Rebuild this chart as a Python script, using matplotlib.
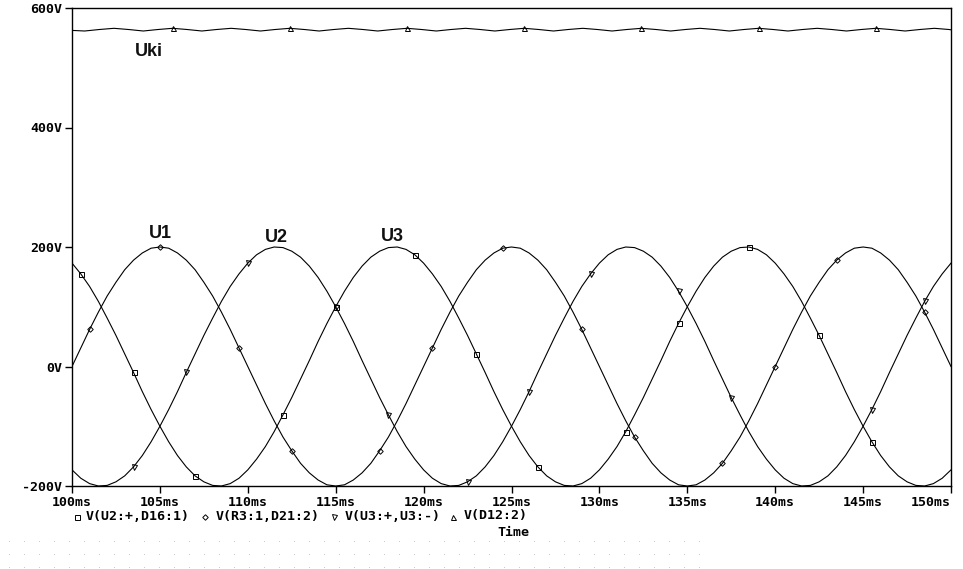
import numpy as np
import matplotlib
matplotlib.use("Agg")
import matplotlib.pyplot as plt
from matplotlib.lines import Line2D

# time axis of the sampled traces (ms)
t_ms = np.linspace(100, 150, 101)

# V(R3:1,D21:2)  -> "U1"
u1 = [0, 31, 62, 91, 118, 141, 162, 178, 190, 198, 200, 198, 190, 178, 162, 141, 118, 91, 62, 31,
      0, -31, -62, -91, -118, -141, -162, -178, -190, -198, -200, -198, -190, -178, -162, -141, -118, -91, -62, -31,
      0, 31, 62, 91, 118, 141, 162, 178, 190, 198, 200, 198, 190, 178, 162, 141, 118, 91, 62, 31,
      0, -31, -62, -91, -118, -141, -162, -178, -190, -198, -200, -198, -190, -178, -162, -141, -118, -91, -62, -31,
      0, 31, 62, 91, 118, 141, 162, 178, 190, 198, 200, 198, 190, 178, 162, 141, 118, 91, 62, 31, 0]

# V(U3:+,U3:-)  -> "U2"
u2 = [-173, -187, -196, -200, -199, -193, -183, -168, -149, -126, -100, -72, -42, -10,
      21, 52, 81, 109, 134, 155, 173, 187, 196, 200, 199, 193, 183, 168, 149, 126, 100, 72, 42, 10,
      -21, -52, -81, -109, -134, -155, -173, -187, -196, -200, -199, -193, -183, -168, -149, -126, -100, -72, -42, -10,
      21, 52, 81, 109, 134, 155, 173, 187, 196, 200, 199, 193, 183, 168, 149, 126, 100, 72, 42, 10,
      -21, -52, -81, -109, -134, -155, -173, -187, -196, -200, -199, -193, -183, -168, -149, -126, -100, -72, -42, -10,
      21, 52, 81, 109, 134, 155, 173]

# V(U2:+,D16:1)  -> "U3"
u3 = [173, 155, 134, 109, 81, 52, 21, -10, -42, -72, -100, -126, -149, -168, -183, -193, -199, -200, -196, -187,
      -173, -155, -134, -109, -81, -52, -21,
      10, 42, 72, 100, 126, 149, 168, 183, 193, 199, 200, 196, 187, 173, 155, 134, 109, 81, 52, 21,
      -10, -42, -72, -100, -126, -149, -168, -183, -193, -199, -200, -196, -187, -173, -155, -134, -109, -81, -52, -21,
      10, 42, 72, 100, 126, 149, 168, 183, 193, 199, 200, 196, 187, 173, 155, 134, 109, 81, 52, 21,
      -10, -42, -72, -100, -126, -149, -168, -183, -193, -199, -200, -196, -187, -173]

# V(D12:2)  -> "Uki", sampled at quarter ripple periods
uki_t = np.r_[100.0, np.linspace(100.72, 149.89, 60), 150.0]
uki = [562.5,
       561.5, 564, 566, 564, 561.5, 564, 566, 564, 561.5, 564, 566, 564,
       561.5, 564, 566, 564, 561.5, 564, 566, 564, 561.5, 564, 566, 564,
       561.5, 564, 566, 564, 561.5, 564, 566, 564, 561.5, 564, 566, 564,
       561.5, 564, 566, 564, 561.5, 564, 566, 564, 561.5, 564, 566, 564,
       561.5, 564, 566, 564, 561.5, 564, 566, 564, 561.5, 564, 566, 564,
       563.5]

# where the probe markers sit (ms)
u1_marks = [100.9, 105.2, 109.3, 112.3, 117.4, 120.5, 124.3, 128.8, 131.8, 136.8, 140.1, 143.5, 148.3]
u2_marks = [103.3, 106.7, 110.0, 114.9, 117.9, 122.4, 126.2, 129.3, 134.4, 137.4, 145.7, 148.7]
u3_marks = [100.3, 103.5, 107.1, 111.8, 114.9, 119.6, 123.1, 126.4, 131.4, 134.3, 138.7, 142.6, 145.7]
uki_marks = [105.4, 112.2, 118.9, 125.6, 132.4, 139.1, 145.8]

y_ticks = [-200, 0, 200, 400, 600]
y_labels = ["-200V", "0V", "200V", "400V", "600V"]
x_ticks = [100, 105, 110, 115, 120, 125, 130, 135, 140, 145, 150]
x_labels = ["%dms" % v for v in x_ticks]

legend_names = ["V(U2:+,D16:1)", "V(R3:1,D21:2)", "V(U3:+,U3:-)", "V(D12:2)"]
trace_names = ["Uki", "U1", "U2", "U3"]


def idx_of(t, marks):
    t = np.asarray(t)
    return [int(np.abs(t - m).argmin()) for m in marks]


W, H = 963, 569
fig = plt.figure(figsize=(W / 100, H / 100), dpi=100)
ax = fig.add_axes([72 / W, 1 - 486 / H, (951 - 72) / W, (486 - 8) / H])

mono = {"family": "DejaVu Sans Mono", "weight": "bold", "size": 9.5}

traces = [
    (t_ms, u3, u3_marks, "s"),
    (t_ms, u1, u1_marks, "D"),
    (t_ms, u2, u2_marks, "v"),
    (uki_t, uki, uki_marks, "^"),
]
for tt, vals, marks, m in traces:
    ax.plot(tt, vals, color="black", lw=0.8, marker=m, markevery=idx_of(tt, marks),
            ms=3.6 if m != "D" else 2.8, mfc="none", mec="black", mew=0.7)

ax.set_xlim(100, 150)
ax.set_ylim(-200, 600)
ax.set_yticks(y_ticks)
ax.set_yticklabels(y_labels, fontdict=mono)
ax.set_xticks(x_ticks)
ax.set_xticklabels(x_labels, fontdict=mono)
ax.get_xticklabels()[-1].set_ha("right")
ax.tick_params(direction="out", length=5, width=1, pad=2, color="black")
for s in ax.spines.values():
    s.set_linewidth(1)
    s.set_color("black")

# trace labels
lab = {"family": "Liberation Sans", "weight": "bold", "size": 13, "color": "#111111"}
ax.text(104.4, 527, trace_names[0], ha="center", va="center", **lab)
ax.text(105.0, 222, trace_names[1], ha="center", va="center", **lab)
ax.text(111.6, 216, trace_names[2], ha="center", va="center", **lab)
ax.text(118.25, 217, trace_names[3], ha="center", va="center", **lab)

# overlay in pixel coordinates for the legend row and window dots
ov = fig.add_axes([0, 0, 1, 1], zorder=-1)
ov.set_xlim(0, W)
ov.set_ylim(H, 0)
ov.axis("off")

gx, gy = np.meshgrid(np.arange(9, 710, 15), [541, 554, 567])
ov.scatter(gx.ravel(), gy.ravel(), s=0.6, color="#c4c4c4", linewidths=0)

leg_sym_x = [77, 205, 334, 453]
leg_txt_x = [86, 216, 345, 464]
for sx, tx, name, m in zip(leg_sym_x, leg_txt_x, legend_names, ["s", "D", "v", "^"]):
    fig.add_artist(Line2D([sx / W], [1 - 517 / H], marker=m, ms=3.6 if m != "D" else 2.8,
                          mfc="none", mec="black", mew=0.7, transform=fig.transFigure))
    fig.text(tx / W, 1 - 516 / H, name, ha="left", va="center", **mono)
fig.text(497 / W, 1 - 532 / H, "Time", ha="left", va="center", **mono)

fig.savefig("out.png", dpi=100)
